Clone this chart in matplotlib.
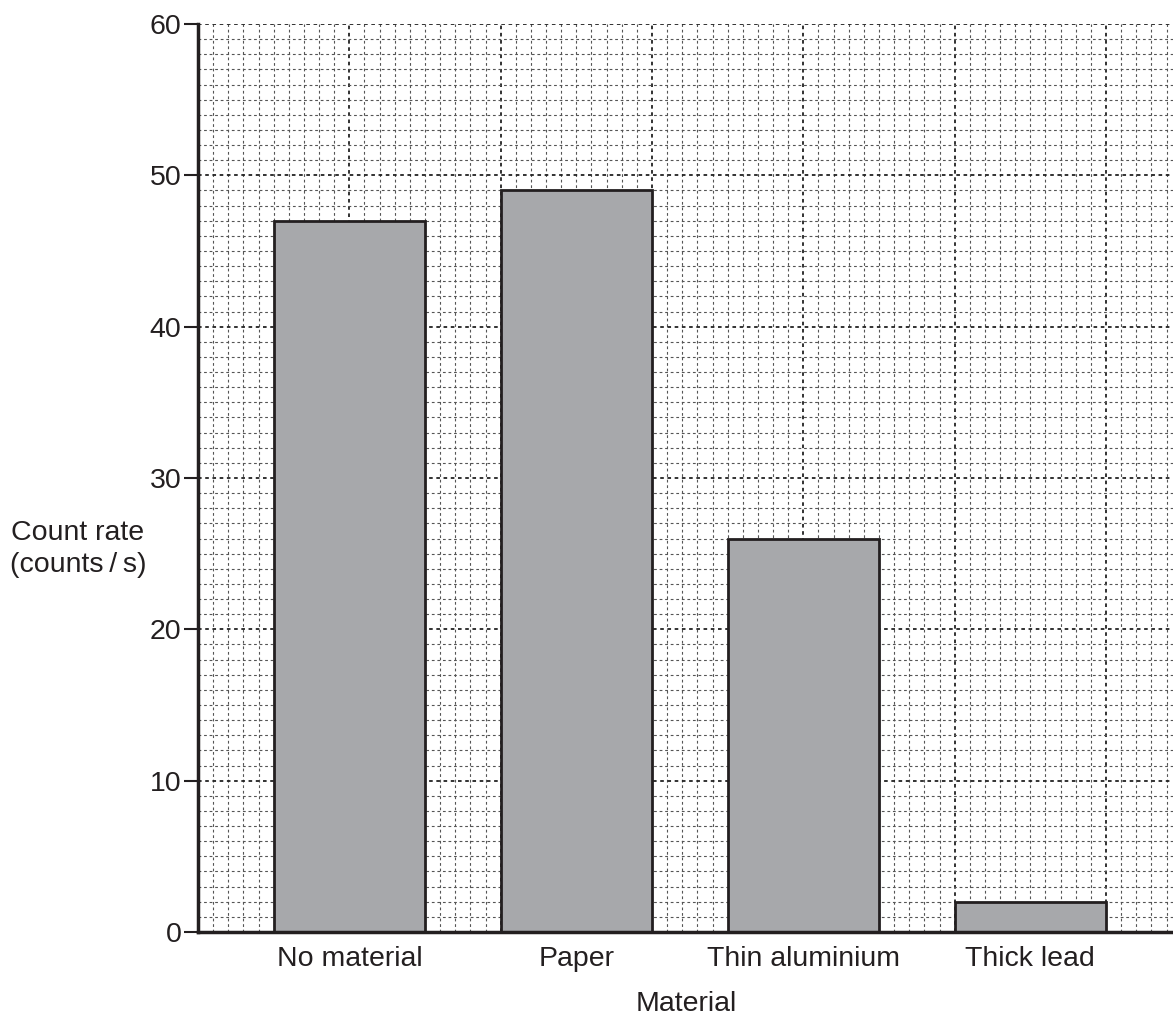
import matplotlib
matplotlib.use("Agg")
import matplotlib.pyplot as plt
import numpy as np

plt.rcParams['font.family'] = ['Liberation Sans', 'DejaVu Sans']

categories = ["No material", "Paper", "Thin aluminium", "Thick lead"]
count_rates = [47, 49, 26, 2]
y_ticks = [0, 10, 20, 30, 40, 50, 60]

FS = 20.5
fig = plt.figure(figsize=(11.73, 10.17), dpi=100)
ax = fig.add_axes([198/1173, 1 - 932/1017, 1 - 198/1173, (932 - 24)/1017])

xmax = (1173 - 198) / (908 / 60)
ax.set_xlim(0, xmax)
ax.set_ylim(0, 60)

# grid
for v in np.arange(1, xmax, 1):
    major = abs(v % 10) < 1e-9
    ax.axvline(v, color='#222222' if major else '#555555',
               lw=1.3 if major else 0.8, ls=(0, (2, 2)) if major else (0, (2.5, 2.5)), zorder=0)
for v in np.arange(1, 61, 1):
    major = v % 10 == 0
    ax.axhline(v, color='#222222' if major else '#555555',
               lw=1.3 if major else 0.8, ls=(0, (2, 2)) if major else (0, (2.5, 2.5)), zorder=0)

centers = [10, 25, 40, 55]
ax.bar(centers, count_rates, width=10, color='#a7a8ab', edgecolor='#231f20',
       linewidth=2, zorder=2)

ax.set_xticks(centers)
ax.set_xticklabels(categories, fontsize=FS)
ax.tick_params(axis='x', length=0, pad=10, colors='#231f20')
ax.set_yticks(y_ticks)
ax.set_yticklabels([str(t) for t in y_ticks], fontsize=FS)
ax.tick_params(axis='y', length=10, width=1.5, pad=2, colors='#231f20')

for s in ['top', 'right']:
    ax.spines[s].set_visible(False)
for s in ['left', 'bottom']:
    ax.spines[s].set_linewidth(2.5)
    ax.spines[s].set_color('#231f20')
    ax.spines[s].set_zorder(3)

fig.text(78/1173, 1 - 549/1017, "Count rate\n(counts\u2009/\u2009s)", fontsize=FS,
         ha='center', va='center', color='#231f20', linespacing=1.3)
fig.text(686/1173, 1 - 1004/1017, "Material", fontsize=FS, ha='center', va='center',
         color='#231f20')

fig.savefig("out.png", dpi=100)
